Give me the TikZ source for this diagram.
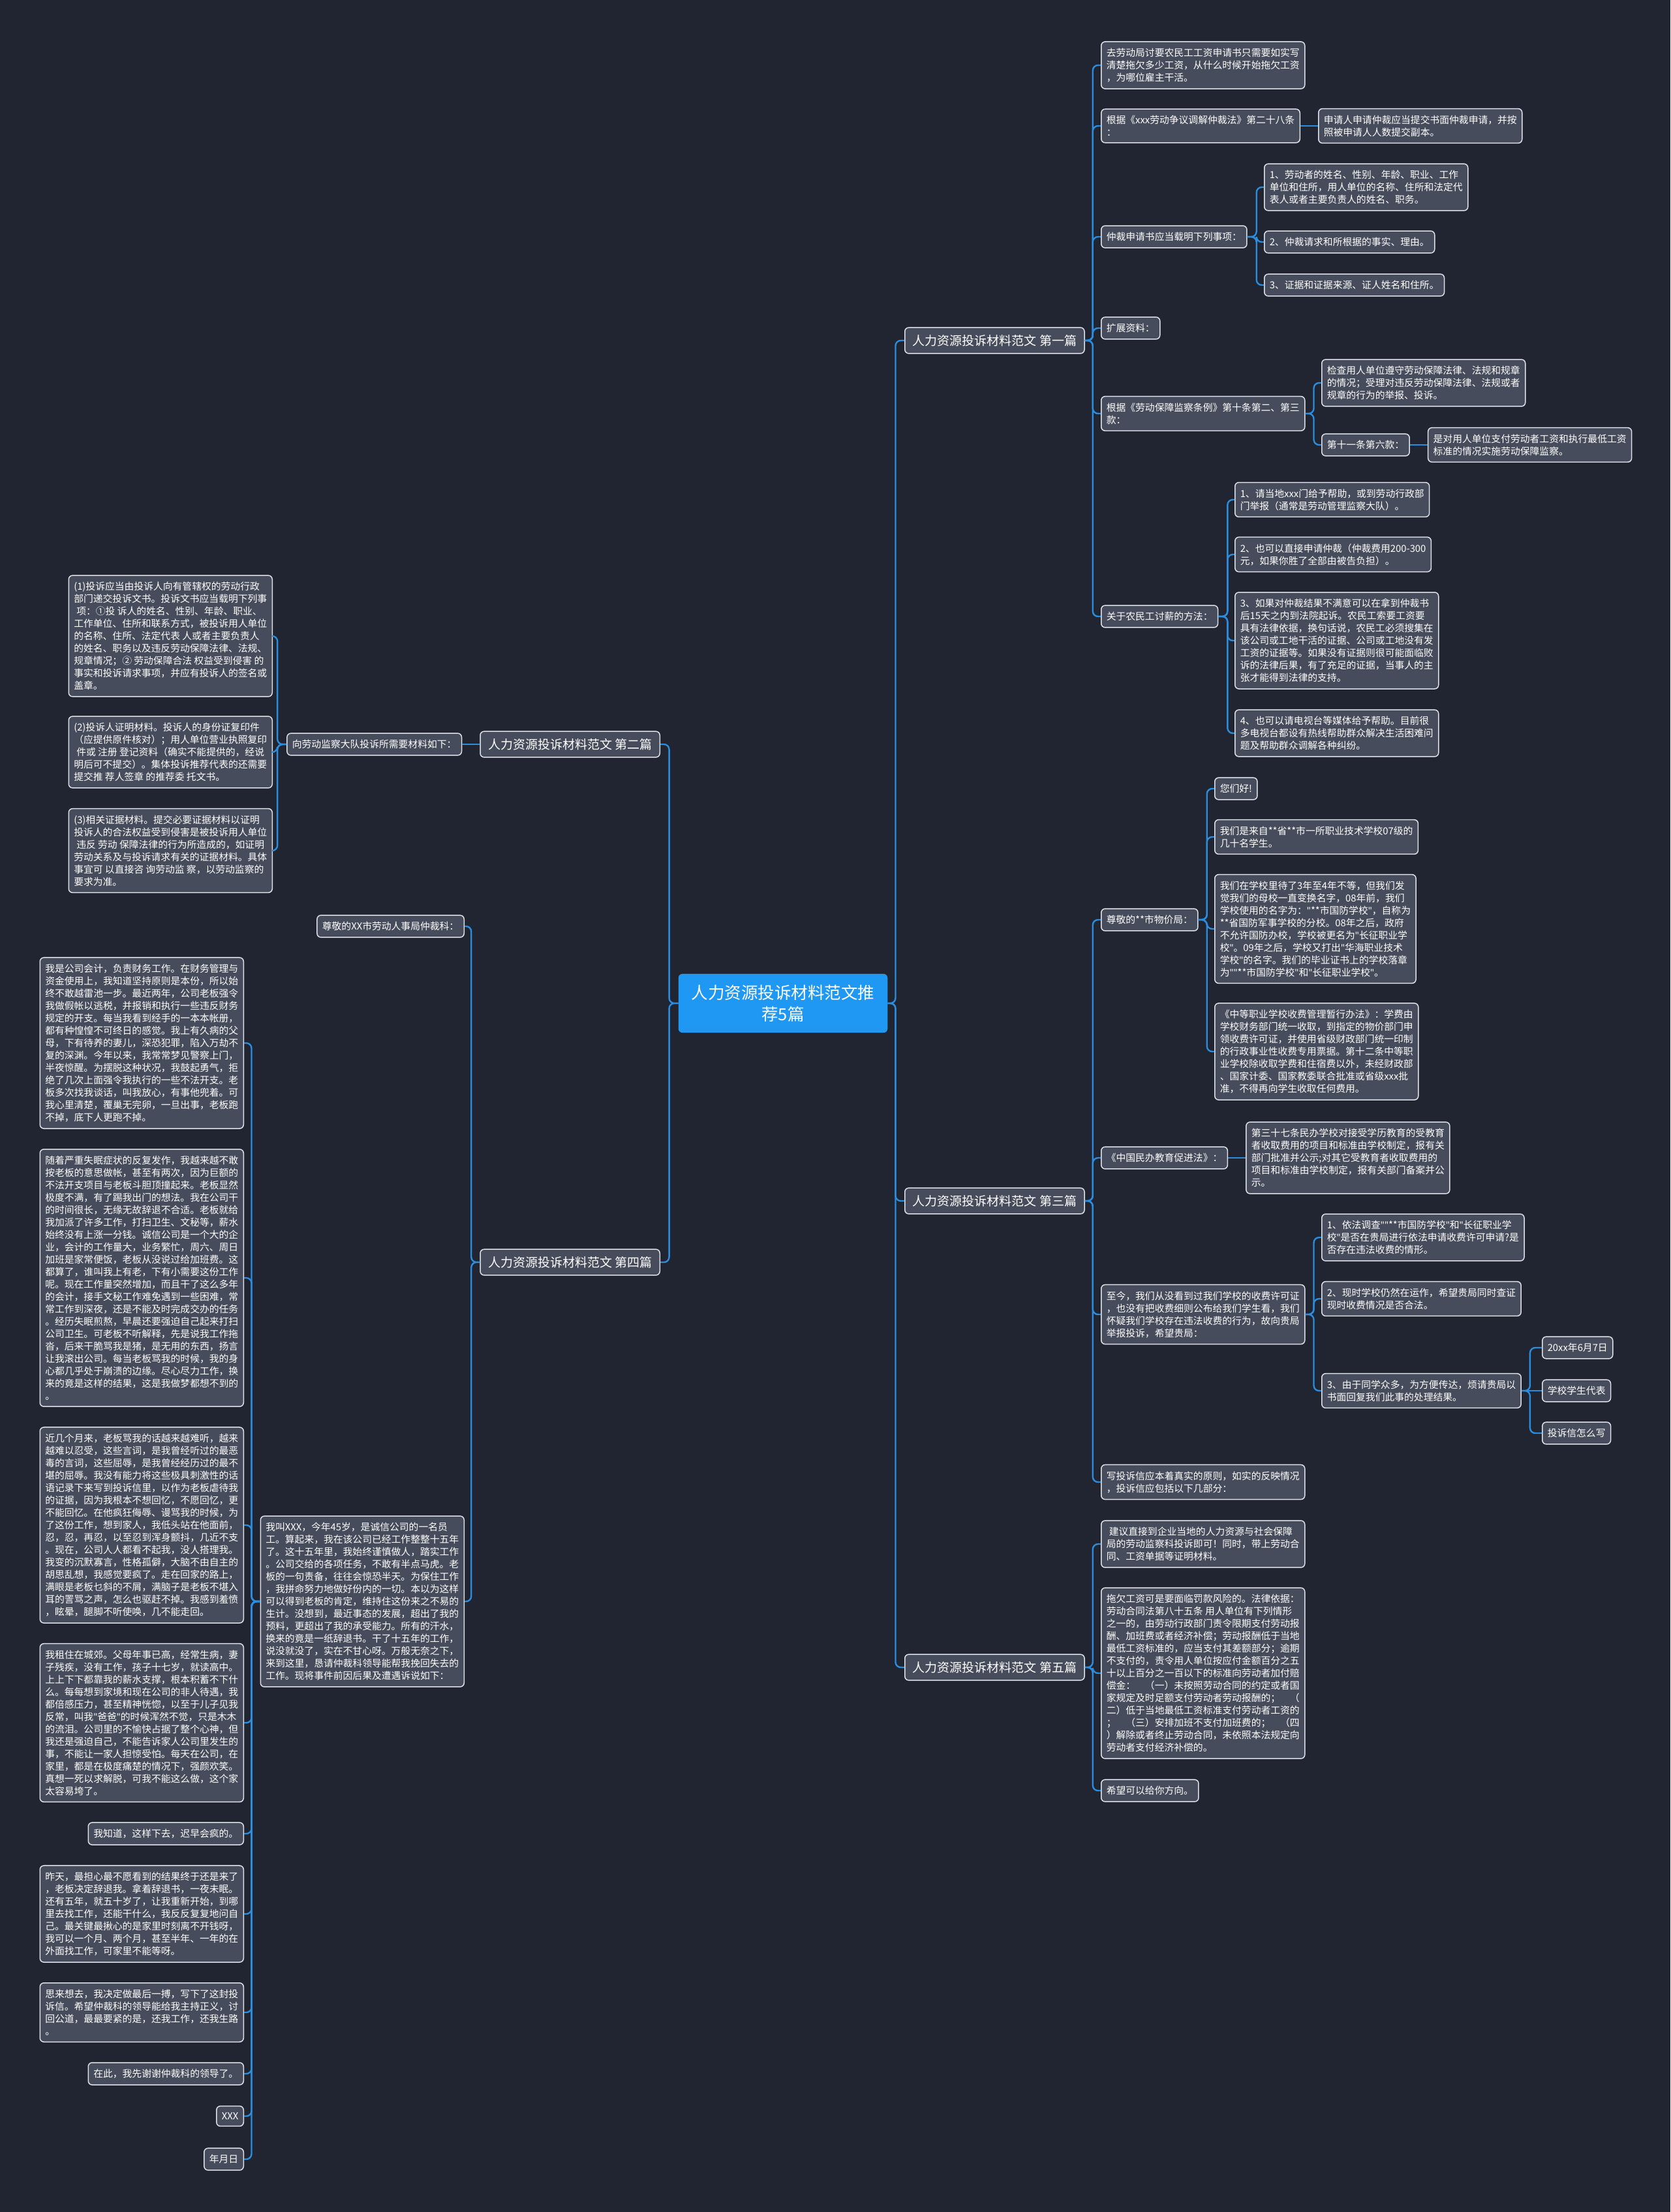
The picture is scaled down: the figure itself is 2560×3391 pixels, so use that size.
\documentclass[tikz,border=0pt]{standalone}
\usepackage{fontspec}
\setmainfont{Noto Sans CJK SC}
\newfontfamily\qfont{Noto Sans}
\newcommand{\qt}{{\qfont"}}
\usepackage{tikz}
\usetikzlibrary{positioning}
\definecolor{mybg}{RGB}{33,37,49}
\definecolor{mynode}{RGB}{70,76,91}
\definecolor{myedge}{RGB}{222,225,232}
\definecolor{mylink}{RGB}{43,141,222}
\definecolor{mytopic}{RGB}{30,152,242}
\tikzset{
  topic/.style={rectangle, fill=mytopic, text=white, align=center,
    rounded corners=6pt, inner xsep=20pt, inner ysep=17pt,
    font=\fontsize{25.5}{32.5}\selectfont},
  branch/.style={rectangle, draw=myedge, fill=mynode, text=white,
    rounded corners=6pt, line width=1.5pt, inner xsep=12pt, inner ysep=11pt,
    font=\fontsize{19}{23}\selectfont},
  leaf/.style={rectangle, draw=myedge, fill=mynode, text=white, align=left,
    rounded corners=6pt, line width=1.5pt, inner xsep=8pt, inner ysep=10pt,
    font=\fontsize{14.8}{19}\selectfont},
  link/.style={draw=mylink, line width=2.4pt, rounded corners=8pt}
}

\begin{document}
\begin{tikzpicture}[x=1pt, y=-1pt, node distance=27pt]
  \useasboundingbox (0,0) rectangle (2560,3391);
  \fill[mybg] (0,0) rectangle (2560,3391);

  % Root
  \node[topic] (root) at (1200,1538) {人力资源投诉材料范文推\\荐5篇};

  % Branches
  \node[branch, anchor=west] (b1) at (1386,522) {人力资源投诉材料范文 第一篇};
  \node[branch, anchor=east] (b2) at (1012,1141) {人力资源投诉材料范文 第二篇};
  \node[branch, anchor=west] (b3) at (1386,1841) {人力资源投诉材料范文 第三篇};
  \node[branch, anchor=east] (b4) at (1012,1935) {人力资源投诉材料范文 第四篇};
  \node[branch, anchor=west] (b5) at (1386,2556) {人力资源投诉材料范文 第五篇};

  % First
  \node[leaf, anchor=west] (s1a) at (1687,100) {去劳动局讨要农民工工资申请书只需要如实写\\清楚拖欠多少工资，从什么时候开始拖欠工资\\，为哪位雇主干活。};
  \node[leaf, anchor=west] (s1b) at (1687,193) {根据《xxx劳动争议调解仲裁法》第二十八条\\：};
  \node[leaf, right=of s1b] (s1b1) {申请人申请仲裁应当提交书面仲裁申请，并按\\照被申请人人数提交副本。};
  \node[leaf, anchor=west] (s1c) at (1687,363) {仲裁申请书应当载明下列事项：};
  \node[leaf, anchor=west] (s1c1) at (1937,287) {1、劳动者的姓名、性别、年龄、职业、工作\\单位和住所，用人单位的名称、住所和法定代\\表人或者主要负责人的姓名、职务。};
  \node[leaf, anchor=west] (s1c2) at (1937,371) {2、仲裁请求和所根据的事实、理由。};
  \node[leaf, anchor=west] (s1c3) at (1937,437) {3、证据和证据来源、证人姓名和住所。};
  \node[leaf, anchor=west] (s1d) at (1687,503) {扩展资料：};
  \node[leaf, anchor=west] (s1e) at (1687,634) {根据《劳动保障监察条例》第十条第二、第三\\款：};
  \node[leaf, anchor=west] (s1e1) at (2025,587) {检查用人单位遵守劳动保障法律、法规和规章\\的情况；受理对违反劳动保障法律、法规或者\\规章的行为的举报、投诉。};
  \node[leaf, anchor=west] (s1e2) at (2025,682) {第十一条第六款：};
  \node[leaf, right=of s1e2] (s1e2a) {是对用人单位支付劳动者工资和执行最低工资\\标准的情况实施劳动保障监察。};
  \node[leaf, anchor=west] (s1f) at (1687,945) {关于农民工讨薪的方法：};
  \node[leaf, anchor=west] (s1f1) at (1892,766) {1、请当地xxx门给予帮助，或到劳动行政部\\门举报（通常是劳动管理监察大队）。};
  \node[leaf, anchor=west] (s1f2) at (1892,850) {2、也可以直接申请仲裁（仲裁费用200-300\\元，如果你胜了全部由被告负担）。};
  \node[leaf, anchor=west] (s1f3) at (1892,982) {3、如果对仲裁结果不满意可以在拿到仲裁书\\后15天之内到法院起诉。农民工索要工资要\\具有法律依据，换句话说，农民工必须搜集在\\该公司或工地干活的证据、公司或工地没有发\\工资的证据等。如果没有证据则很可能面临败\\诉的法律后果，有了充足的证据，当事人的主\\张才能得到法律的支持。};
  \node[leaf, anchor=west] (s1f4) at (1892,1124) {4、也可以请电视台等媒体给予帮助。目前很\\多电视台都设有热线帮助群众解决生活困难问\\题及帮助群众调解各种纠纷。};

  % Second
  \node[leaf, left=of b2] (s2a) {向劳动监察大队投诉所需要材料如下：};
  \node[leaf, anchor=east] (s2a1) at (418,975) {(1)投诉应当由投诉人向有管辖权的劳动行政\\部门递交投诉文书。投诉文书应当载明下列事\\\hspace*{4pt}项：①投 诉人的姓名、性别、年龄、职业、\\工作单位、住所和联系方式，被投诉用人单位\\的名称、住所、法定代表 人或者主要负责人\\的姓名、职务以及违反劳动保障法律、法规、\\规章情况；② 劳动保障合法 权益受到侵害 的\\事实和投诉请求事项，并应有投诉人的签名或\\盖章。};
  \node[leaf, anchor=east] (s2a2) at (418,1153) {(2)投诉人证明材料。投诉人的身份证复印件\\（应提供原件核对）；用人单位营业执照复印\\\hspace*{4pt}件或 注册 登记资料（确实不能提供的，经说\\明后可不提交）。集体投诉推荐代表的还需要\\提交推 荐人签章 的推荐委 托文书。};
  \node[leaf, anchor=east] (s2a3) at (418,1304) {(3)相关证据材料。提交必要证据材料以证明\\投诉人的合法权益受到侵害是被投诉用人单位\\\hspace*{4pt}违反 劳动 保障法律的行为所造成的，如证明\\劳动关系及与投诉请求有关的证据材料。具体\\事宜可 以直接咨 询劳动监 察，以劳动监察的\\要求为准。};

  % Third
  \node[leaf, anchor=west] (s3a) at (1687,1410) {尊敬的**市物价局：};
  \node[leaf, anchor=west] (s3a1) at (1861,1209) {您们好!};
  \node[leaf, anchor=west] (s3a2) at (1861,1283) {我们是来自**省**市一所职业技术学校07级的\\几十名学生。};
  \node[leaf, anchor=west] (s3a3) at (1861,1424) {我们在学校里待了3年至4年不等，但我们发\\觉我们的母校一直变换名字，08年前，我们\\学校使用的名字为：\qt{}**市国防学校\qt{}，自称为\\**省国防军事学校的分校。08年之后，政府\\不允许国防办校，学校被更名为\qt{}长征职业学\\校\qt{}。09年之后，学校又打出\qt{}华海职业技术\\学校\qt{}的名字。我们的毕业证书上的学校落章\\为\qt{}\qt{}**市国防学校\qt{}和\qt{}长征职业学校\qt{}。};
  \node[leaf, anchor=west] (s3a4) at (1861,1612) {《中等职业学校收费管理暂行办法》：学费由\\学校财务部门统一收取，到指定的物价部门申\\领收费许可证，并使用省级财政部门统一印制\\的行政事业性收费专用票据。第十二条中等职\\业学校除收取学费和住宿费以外，未经财政部\\、国家计委、国家教委联合批准或省级xxx批\\准，不得再向学生收取任何费用。};
  \node[leaf, anchor=west] (s3b) at (1687,1775) {《中国民办教育促进法》：};
  \node[leaf, right=of s3b] (s3b1) {第三十七条民办学校对接受学历教育的受教育\\者收取费用的项目和标准由学校制定，报有关\\部门批准并公示;对其它受教育者收取费用的\\项目和标准由学校制定，报有关部门备案并公\\示。};
  \node[leaf, anchor=west] (s3c) at (1687,2015) {至今，我们从没看到过我们学校的收费许可证\\，也没有把收费细则公布给我们学生看，我们\\怀疑我们学校存在违法收费的行为，故向贵局\\举报投诉，希望贵局：};
  \node[leaf, anchor=west] (s3c1) at (2025,1897) {1、依法调查\qt{}\qt{}**市国防学校\qt{}和\qt{}长征职业学\\校\qt{}是否在贵局进行依法申请收费许可申请?是\\否存在违法收费的情形。};
  \node[leaf, anchor=west] (s3c2) at (2025,1991) {2、现时学校仍然在运作，希望贵局同时查证\\现时收费情况是否合法。};
  \node[leaf, anchor=west] (s3c3) at (2025,2132) {3、由于同学众多，为方便传达，烦请贵局以\\书面回复我们此事的处理结果。};
  \node[leaf, anchor=west] (s3c3a) at (2363,2066) {20xx年6月7日};
  \node[leaf, anchor=west] (s3c3b) at (2363,2132) {学校学生代表};
  \node[leaf, anchor=west] (s3c3c) at (2363,2197) {投诉信怎么写};
  \node[leaf, anchor=west] (s3d) at (1687,2272) {写投诉信应本着真实的原则，如实的反映情况\\，投诉信应包括以下几部分：};

  % Fourth
  \node[leaf, anchor=east] (s4a) at (712,1420) {尊敬的XX市劳动人事局仲裁科：};
  \node[leaf, anchor=east] (s4b) at (712,2455) {我叫XXX，今年45岁，是诚信公司的一名员\\工。算起来，我在该公司已经工作整整十五年\\了。这十五年里，我始终谨慎做人，踏实工作\\。公司交给的各项任务，不敢有半点马虎。老\\板的一句责备，往往会惊恐半天。为保住工作\\，我拼命努力地做好份内的一切。本以为这样\\可以得到老板的肯定，维持住这份来之不易的\\生计。没想到，最近事态的发展，超出了我的\\预料，更超出了我的承受能力。所有的汗水，\\换来的竟是一纸辞退书。干了十五年的工作，\\说没就没了，实在不甘心呀。万般无奈之下，\\来到这里，恳请仲裁科领导能帮我挽回失去的\\工作。现将事件前因后果及遭遇诉说如下：};
  \node[leaf, anchor=east] (s4b1) at (374,1599) {我是公司会计，负责财务工作。在财务管理与\\资金使用上，我知道坚持原则是本份，所以始\\终不敢越雷池一步。最近两年，公司老板强令\\我做假帐以逃税，并报销和执行一些违反财务\\规定的开支。每当我看到经手的一本本帐册，\\都有种惶惶不可终日的感觉。我上有久病的父\\母，下有待养的妻儿，深恐犯罪，陷入万劫不\\复的深渊。今年以来，我常常梦见警察上门，\\半夜惊醒。为摆脱这种状况，我鼓起勇气，拒\\绝了几次上面强令我执行的一些不法开支。老\\板多次找我谈话，叫我放心，有事他兜着。可\\我心里清楚，覆巢无完卵，一旦出事，老板跑\\不掉，底下人更跑不掉。};
  \node[leaf, anchor=east] (s4b2) at (374,1959) {随着严重失眠症状的反复发作，我越来越不敢\\按老板的意思做帐，甚至有两次，因为巨额的\\不法开支项目与老板斗胆顶撞起来。老板显然\\极度不满，有了踢我出门的想法。我在公司干\\的时间很长，无缘无故辞退不合适。老板就给\\我加派了许多工作，打扫卫生、文秘等，薪水\\始终没有上涨一分钱。诚信公司是一个大的企\\业，会计的工作量大，业务繁忙，周六、周日\\加班是家常便饭，老板从没说过给加班费。这\\都算了，谁叫我上有老，下有小需要这份工作\\呢。现在工作量突然增加，而且干了这么多年\\的会计，接手文秘工作难免遇到一些困难，常\\常工作到深夜，还是不能及时完成交办的任务\\。经历失眠煎熬，早晨还要强迫自己起来打扫\\公司卫生。可老板不听解释，先是说我工作拖\\沓，后来干脆骂我是猪，是无用的东西，扬言\\让我滚出公司。每当老板骂我的时候，我的身\\心都几乎处于崩溃的边缘。尽心尽力工作，换\\来的竟是这样的结果，这是我做梦都想不到的\\。};
  \node[leaf, anchor=east] (s4b3) at (374,2338) {近几个月来，老板骂我的话越来越难听，越来\\越难以忍受，这些言词，是我曾经听过的最恶\\毒的言词，这些屈辱，是我曾经经历过的最不\\堪的屈辱。我没有能力将这些极具刺激性的话\\语记录下来写到投诉信里，以作为老板虐待我\\的证据，因为我根本不想回忆，不愿回忆，更\\不能回忆。在他疯狂侮辱、谩骂我的时候，为\\了这份工作，想到家人，我低头站在他面前，\\忍，忍，再忍，以至忍到浑身颤抖，几近不支\\。现在，公司人人都看不起我，没人搭理我。\\我变的沉默寡言，性格孤僻，大脑不由自主的\\胡思乱想，我感觉要疯了。走在回家的路上，\\满眼是老板乜斜的不屑，满脑子是老板不堪入\\耳的詈骂之声，怎么也驱赶不掉。我感到羞愤\\，眩晕，腿脚不听使唤，几不能走回。};
  \node[leaf, anchor=east] (s4b4) at (374,2641) {我租住在城郊。父母年事已高，经常生病，妻\\子残疾，没有工作，孩子十七岁，就读高中。\\上上下下都靠我的薪水支撑，根本积蓄不下什\\么。每每想到家境和现在公司的非人待遇，我\\都倍感压力，甚至精神恍惚，以至于儿子见我\\反常，叫我\qt{}爸爸\qt{}的时候浑然不觉，只是木木\\的流泪。公司里的不愉快占据了整个心神，但\\我还是强迫自己，不能告诉家人公司里发生的\\事，不能让一家人担惊受怕。每天在公司，在\\家里，都是在极度痛楚的情况下，强颜欢笑。\\真想一死以求解脱，可我不能这么做，这个家\\太容易垮了。};
  \node[leaf, anchor=east] (s4b5) at (374,2811) {我知道，这样下去，迟早会疯的。};
  \node[leaf, anchor=east] (s4b6) at (374,2934) {昨天，最担心最不愿看到的结果终于还是来了\\，老板决定辞退我。拿着辞退书，一夜未眠。\\还有五年，就五十岁了，让我重新开始，到哪\\里去找工作，还能干什么，我反反复复地问自\\己。最关键最揪心的是家里时刻离不开钱呀，\\我可以一个月、两个月，甚至半年、一年的在\\外面找工作，可家里不能等呀。};
  \node[leaf, anchor=east] (s4b7) at (374,3085) {思来想去，我决定做最后一搏，写下了这封投\\诉信。希望仲裁科的领导能给我主持正义，讨\\回公道，最最要紧的是，还我工作，还我生路\\。};
  \node[leaf, anchor=east] (s4b8) at (374,3179) {在此，我先谢谢仲裁科的领导了。};
  \node[leaf, anchor=east] (s4b9) at (374,3244) {XXX};
  \node[leaf, anchor=east] (s4b10) at (374,3310) {年月日};

  % Fifth
  \node[leaf, anchor=west] (s5a) at (1687,2367) {\hspace*{4pt}建议直接到企业当地的人力资源与社会保障\\局的劳动监察科投诉即可！同时，带上劳动合\\同、工资单据等证明材料。};
  \node[leaf, anchor=west] (s5b) at (1687,2565) {拖欠工资可是要面临罚款风险的。法律依据：\\劳动合同法第八十五条 用人单位有下列情形\\之一的，由劳动行政部门责令限期支付劳动报\\酬、加班费或者经济补偿；劳动报酬低于当地\\最低工资标准的，应当支付其差额部分；逾期\\不支付的，责令用人单位按应付金额百分之五\\十以上百分之一百以下的标准向劳动者加付赔\\偿金：\quad（一）未按照劳动合同的约定或者国\\家规定及时足额支付劳动者劳动报酬的；\quad（\\二）低于当地最低工资标准支付劳动者工资的\\；\quad（三）安排加班不支付加班费的；\quad（四\\）解除或者终止劳动合同，未依照本法规定向\\劳动者支付经济补偿的。};
  \node[leaf, anchor=west] (s5c) at (1687,2745) {希望可以给你方向。};

  % Links from root
  \draw[link] (root.east) -- ++(12,0) |- (b1.west);
  \draw[link] (root.east) -- ++(12,0) |- (b3.west);
  \draw[link] (root.east) -- ++(12,0) |- (b5.west);
  \draw[link] (root.west) -- ++(-14,0) |- (b2.east);
  \draw[link] (root.west) -- ++(-14,0) |- (b4.east);

  % Links first
  \draw[link] (b1.east) -- ++(12,0) |- (s1a.west);
  \draw[link] (b1.east) -- ++(12,0) |- (s1b.west);
  \draw[link] (b1.east) -- ++(12,0) |- (s1c.west);
  \draw[link] (b1.east) -- ++(12,0) |- (s1d.west);
  \draw[link] (b1.east) -- ++(12,0) |- (s1e.west);
  \draw[link] (b1.east) -- ++(12,0) |- (s1f.west);
  \draw[link] (s1b) -- (s1b1);
  \draw[link] (s1c.east) -- ++(14,0) |- (s1c1.west);
  \draw[link] (s1c.east) -- ++(14,0) |- (s1c2.west);
  \draw[link] (s1c.east) -- ++(14,0) |- (s1c3.west);
  \draw[link] (s1e.east) -- ++(13,0) |- (s1e1.west);
  \draw[link] (s1e.east) -- ++(13,0) |- (s1e2.west);
  \draw[link] (s1e2) -- (s1e2a);
  \draw[link] (s1f.east) -- ++(14,0) |- (s1f1.west);
  \draw[link] (s1f.east) -- ++(14,0) |- (s1f2.west);
  \draw[link] (s1f.east) -- ++(14,0) |- (s1f3.west);
  \draw[link] (s1f.east) -- ++(14,0) |- (s1f4.west);

  % Links second
  \draw[link] (b2) -- (s2a);
  \draw[link] (s2a.west) -- ++(-14,0) |- (s2a1.east);
  \draw[link] (s2a.west) -- ++(-14,0) |- (s2a2.east);
  \draw[link] (s2a.west) -- ++(-14,0) |- (s2a3.east);

  % Links third
  \draw[link] (b3.east) -- ++(12,0) |- (s3a.west);
  \draw[link] (b3.east) -- ++(12,0) |- (s3b.west);
  \draw[link] (b3.east) -- ++(12,0) |- (s3c.west);
  \draw[link] (b3.east) -- ++(12,0) |- (s3d.west);
  \draw[link] (s3a.east) -- ++(13,0) |- (s3a1.west);
  \draw[link] (s3a.east) -- ++(13,0) |- (s3a2.west);
  \draw[link] (s3a.east) -- ++(13,0) |- (s3a3.west);
  \draw[link] (s3a.east) -- ++(13,0) |- (s3a4.west);
  \draw[link] (s3b) -- (s3b1);
  \draw[link] (s3c.east) -- ++(13,0) |- (s3c1.west);
  \draw[link] (s3c.east) -- ++(13,0) |- (s3c2.west);
  \draw[link] (s3c.east) -- ++(13,0) |- (s3c3.west);
  \draw[link] (s3c3.east) -- ++(13,0) |- (s3c3a.west);
  \draw[link] (s3c3) -- (s3c3b);
  \draw[link] (s3c3.east) -- ++(13,0) |- (s3c3c.west);

  % Links fourth
  \draw[link] (b4.west) -- ++(-13,0) |- (s4a.east);
  \draw[link] (b4.west) -- ++(-13,0) |- (s4b.east);
  \draw[link] (s4b.west) -- ++(-13,0) |- (s4b1.east);
  \draw[link] (s4b.west) -- ++(-13,0) |- (s4b2.east);
  \draw[link] (s4b.west) -- ++(-13,0) |- (s4b3.east);
  \draw[link] (s4b.west) -- ++(-13,0) |- (s4b4.east);
  \draw[link] (s4b.west) -- ++(-13,0) |- (s4b5.east);
  \draw[link] (s4b.west) -- ++(-13,0) |- (s4b6.east);
  \draw[link] (s4b.west) -- ++(-13,0) |- (s4b7.east);
  \draw[link] (s4b.west) -- ++(-13,0) |- (s4b8.east);
  \draw[link] (s4b.west) -- ++(-13,0) |- (s4b9.east);
  \draw[link] (s4b.west) -- ++(-13,0) |- (s4b10.east);

  % Links fifth
  \draw[link] (b5.east) -- ++(12,0) |- (s5a.west);
  \draw[link] (b5.east) -- ++(12,0) |- (s5b.west);
  \draw[link] (b5.east) -- ++(12,0) |- (s5c.west);
\end{tikzpicture}
\end{document}
